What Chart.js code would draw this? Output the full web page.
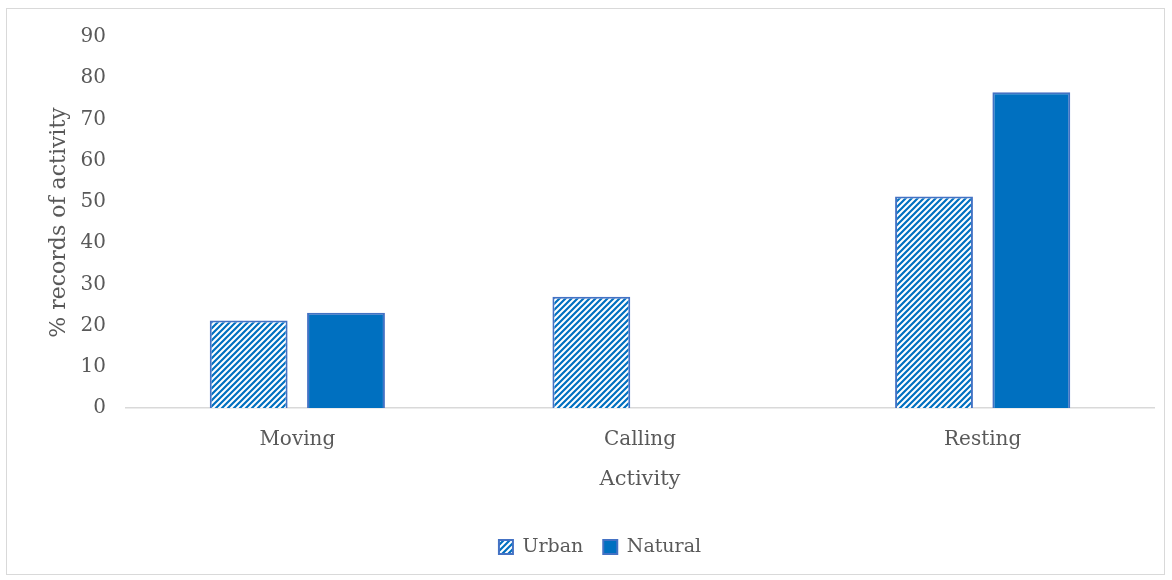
<!DOCTYPE html>
<html>
<head>
<meta charset="utf-8">
<script src="https://cdn.jsdelivr.net/npm/chart.js@4"></script>
<style>
  body { margin: 0; background: #fff; }
  #wrap { width: 1172px; height: 580px; }
</style>
</head>
<body>
<div id="wrap"><canvas id="activityChart" width="1172" height="580"></canvas></div>
<script>
// Values
const activities = ['Moving', 'Calling', 'Resting'];
const urbanValues = [21.2, 27.0, 51.3];
const naturalValues = [23.1, 0, 76.6];
const yTicks = [0, 10, 20, 30, 40, 50, 60, 70, 80, 90];

const blue = '#0070C0';
const edge = '#4472C4';
const textColor = '#595959';
const fontFamily = '"DejaVu Serif", "Liberation Serif", serif';

// diagonal stripe fill for the Urban bars
function stripes() {
  const c = document.createElement('canvas');
  c.width = 6; c.height = 6;
  const g = c.getContext('2d');
  g.fillStyle = '#fff';
  g.fillRect(0, 0, 6, 6);
  g.strokeStyle = blue;
  g.lineWidth = 2.2;
  g.beginPath();
  g.moveTo(-1, 7); g.lineTo(7, -1);
  g.moveTo(-4, 4); g.lineTo(4, -4);
  g.moveTo(2, 10); g.lineTo(10, 2);
  g.stroke();
  return g.createPattern(c, 'repeat');
}

// light frame around the whole chart
const frame = {
  id: 'frame',
  afterDraw(chart) {
    const ctx = chart.ctx;
    ctx.save();
    ctx.strokeStyle = '#d9d9d9';
    ctx.lineWidth = 1;
    ctx.strokeRect(6.5, 8.5, 1158, 566);
    ctx.restore();
  }
};

const ctx = document.getElementById('activityChart').getContext('2d');
const chart = new Chart(ctx, {
  type: 'bar',
  data: {
    labels: activities,
    datasets: [
      {
        label: 'Urban',
        data: urbanValues,
        backgroundColor: stripes(),
        borderColor: edge,
        borderWidth: 2
      },
      {
        label: 'Natural',
        data: naturalValues,
        backgroundColor: blue,
        borderColor: edge,
        borderWidth: 2
      }
    ]
  },
  options: {
    responsive: false,
    animation: false,
    layout: { padding: { top: 37, right: 18, bottom: 13.5, left: 46 } },
    datasets: {
      bar: { categoryPercentage: 0.568, barPercentage: 0.8 }
    },
    scales: {
      y: {
        min: 0,
        max: 90,
        afterBuildTicks: axis => { axis.ticks = yTicks.map(v => ({ value: v })); },
        afterFit: axis => { axis.width = 80; },
        grid: { display: false },
        border: { display: false },
        ticks: { color: textColor, font: { family: fontFamily, size: 20 }, padding: 12 },
        title: {
          display: true,
          text: '% records of activity',
          color: textColor,
          font: { family: fontFamily, size: 22 },
          padding: 0
        }
      },
      x: {
        grid: { display: false },
        border: { color: '#d9d9d9', width: 1.5 },
        ticks: { color: textColor, font: { family: fontFamily, size: 20 }, padding: 12 },
        title: {
          display: true,
          text: 'Activity',
          color: textColor,
          font: { family: fontFamily, size: 21 },
          padding: { top: 3.4, bottom: 24.9 }
        }
      }
    },
    plugins: {
      legend: {
        position: 'bottom',
        labels: {
          color: textColor,
          font: { family: fontFamily, size: 19 },
          boxWidth: 14,
          boxHeight: 14,
          padding: 20
        }
      },
      tooltip: { enabled: false }
    }
  },
  plugins: [frame]
});
</script>
</body>
</html>
